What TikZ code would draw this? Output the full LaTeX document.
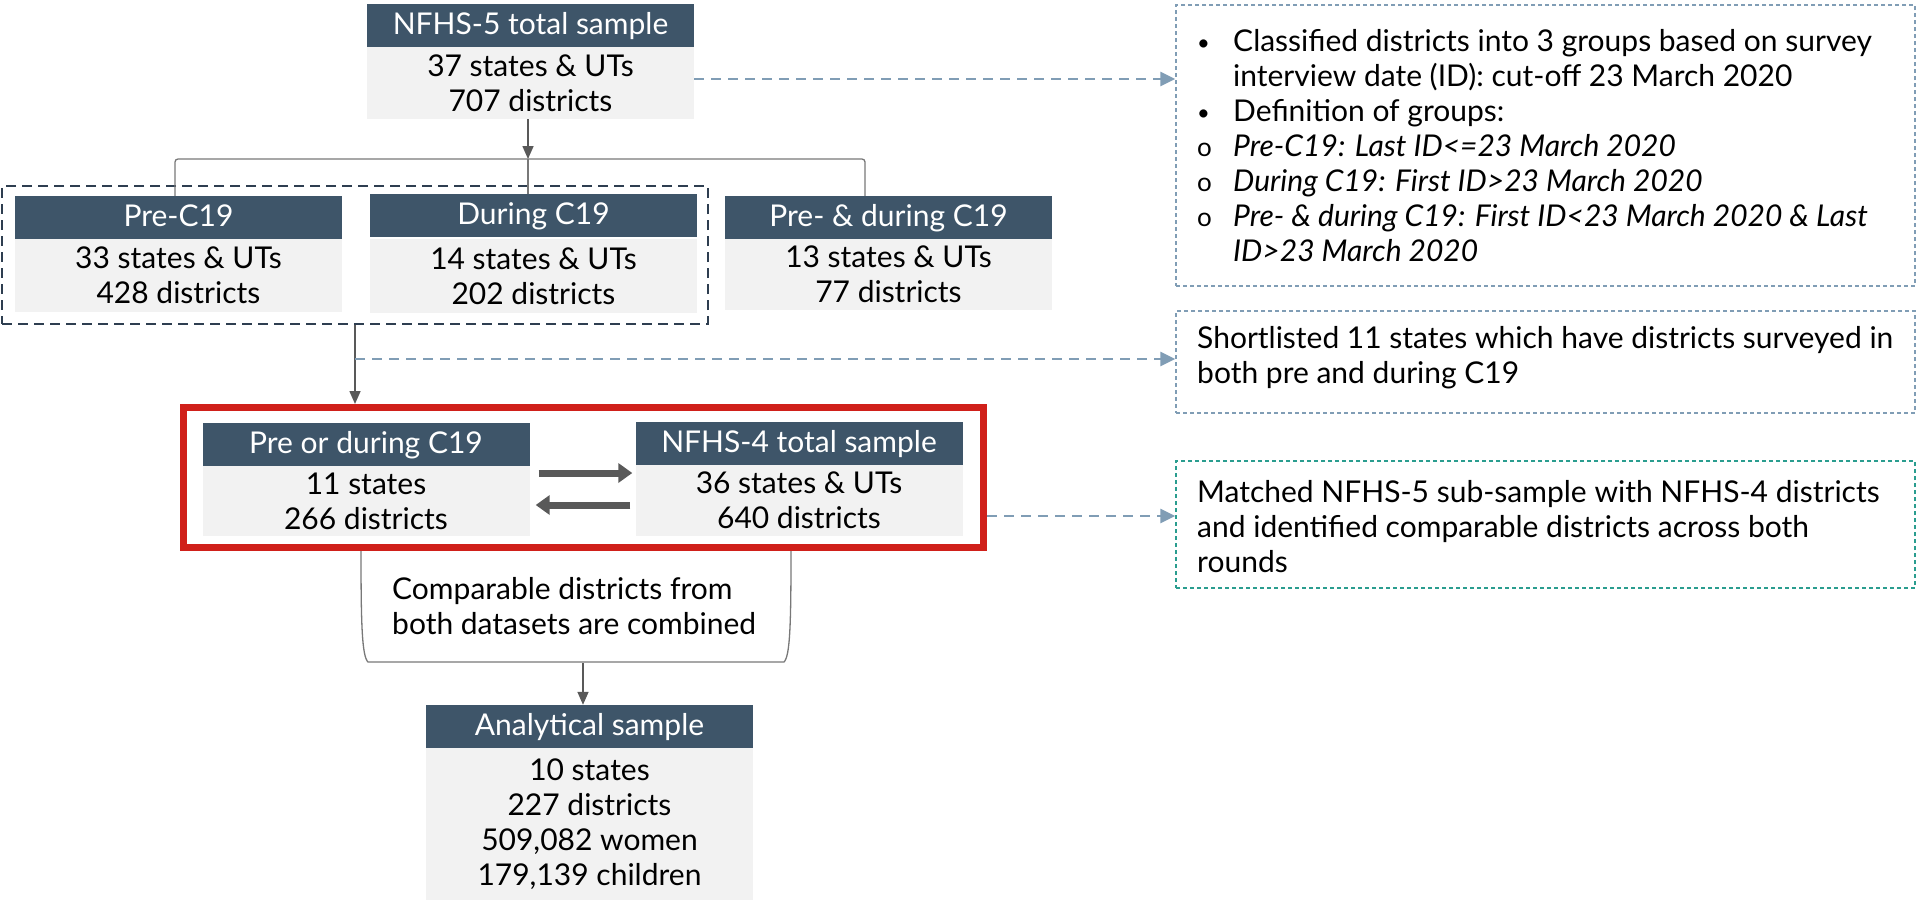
\documentclass[tikz,border=0pt]{standalone}
\usepackage{fontspec}
\setmainfont{Lato}
\usetikzlibrary{arrows.meta,calc}
\definecolor{hdrc}{RGB}{62,85,105}
\definecolor{bodyc}{RGB}{242,242,242}
\definecolor{grpc}{RGB}{46,62,80}
\definecolor{blu}{RGB}{128,157,181}
\definecolor{grn}{RGB}{42,157,143}
\definecolor{redc}{RGB}{208,32,26}
\definecolor{arrc}{RGB}{89,89,89}
\definecolor{brkc}{RGB}{120,120,120}
\newcommand{\bul}{\makebox[36pt][l]{\fontsize{22}{22}\selectfont\raisebox{1pt}{•}}}
\newcommand{\cir}{\makebox[36pt][l]{\fontsize{26}{26}\selectfont o}}
\begin{document}
\begin{tikzpicture}[x=1pt,y=-1pt,
  txt/.style={font=\fontsize{30}{35}\selectfont},
  hdr/.style={txt, fill=hdrc, text=white, minimum width=327pt, minimum height=43pt, inner sep=0pt, text height=23pt, text depth=6pt},
  bodyb/.style={txt, fill=bodyc, text=black, minimum width=327pt, inner sep=0pt, align=center},
  gar/.style={draw=arrc, line width=1.6pt, -{Triangle[length=13pt,width=11pt]}},
  fat/.style={draw=arrc, line width=7pt, -{Triangle[length=14pt,width=19pt]}},
  brk/.style={draw=brkc, line width=1.3pt},
  blarr/.style={draw=blu, line width=2.6pt, dash pattern=on 10pt off 7pt, -{Triangle[length=15pt,width=14pt]}},
  notebox/.style={draw, line width=1.3pt, dash pattern=on 4pt off 3pt, minimum width=739pt, inner sep=0pt},
]
\useasboundingbox (0,0) rectangle (1921,900);

% NFHS-5
\node[hdr] (n5h) at (530.5,25.5) {NFHS-5 total sample};
\node[bodyb, minimum height=72pt] (n5b) at (530.5,83) {37 states \& UTs\\707 districts};

% three groups
\node[hdr] (preh) at (178.5,217.5) {Pre-C19};
\node[bodyb, minimum height=73pt] (preb) at (178.5,275.5) {33 states \& UTs\\428 districts};
\node[hdr] (durh) at (533.5,215.5) {During C19};
\node[bodyb, minimum height=74pt] (durb) at (533.5,276) {14 states \& UTs\\202 districts};
\node[hdr] (pdh) at (888.5,217.5) {Pre- \& during C19};
\node[bodyb, minimum height=71pt] (pdb) at (888.5,274.5) {13 states \& UTs\\77 districts};

% dashed group box
\node[draw=grpc, line width=2.8pt, dash pattern=on 10pt off 6pt, minimum width=706pt, minimum height=138pt, inner sep=0pt] (grp) at (355,255) {};

% bracket from NFHS-5
\coordinate (bk) at (528,159);
\draw[gar] (n5b.south -| bk) -- (bk);
\draw[brk, rounded corners=3pt] (preh.north -| 175,0) -- (175,159) -- (865,159) -- (pdh.north -| 865,0);
\draw[brk] (bk) -- (durh.north -| bk);

% red box
\node[draw=redc, line width=7pt, minimum width=800pt, minimum height=140pt, inner sep=0pt] (red) at (583.5,477.5) {};
\node[hdr] (podh) at (366,444.5) {Pre or during C19};
\node[bodyb, minimum height=70pt] (podb) at (366,501) {11 states\\266 districts};
\node[hdr] (n4h) at (799,443.5) {NFHS-4 total sample};
\node[bodyb, minimum height=71pt] (n4b) at (799,500.5) {36 states \& UTs\\640 districts};
\draw[fat, shorten <=9pt, shorten >=3pt] (podb.east |- 0,473) -- (n4b.west |- 0,473);
\draw[fat, shorten <=5pt, shorten >=6pt] (n4b.west |- 0,505) -- (podb.east |- 0,505);

\draw[gar] (grp.south) -- (grp.south |- red.north);

% bracket below red box
\draw[brk] (361,551) .. controls (361,625) and (362,656) .. (368,662) -- (784,662) .. controls (790,656) and (791,625) .. (791,551);
\node[txt, anchor=west, align=left, inner sep=0pt] (cmp) at (392,606.5) {Comparable districts from\\both datasets are combined};
\coordinate (brb) at (583,663);

% analytical sample
\node[hdr] (anh) at (589.5,726.5) {Analytical sample};
\node[bodyb, minimum height=152pt] (anb) at (589.5,824) {10 states\\227 districts\\509,082 women\\179,139 children};
\draw[gar] (brb) -- (brb |- anh.north);

% note boxes
\node[notebox, draw=blu, minimum height=281pt] (box1) at (1545.5,145.5) {};
\node[txt, anchor=west, align=left, inner sep=0pt] (t1) at (1197,146) {%
\bul Classified districts into 3 groups based on survey\\
\hspace*{36pt}interview date (ID): cut-off 23 March 2020\\
\bul Definition of groups:\\
\cir\textit{Pre-C19: Last ID<=23 March 2020}\\
\cir\textit{During C19: First ID>23 March 2020}\\
\cir\textit{Pre- \& during C19: First ID<23 March 2020 \& Last}\\
\hspace*{36pt}\textit{ID>23 March 2020}};
\node[notebox, draw=blu, minimum height=102pt] (box2) at (1545.5,362) {};
\node[txt, anchor=west, align=left, inner sep=0pt] (t2) at (1197,357.5) {Shortlisted 11 states which have districts surveyed in\\both pre and during C19};
\node[notebox, draw=grn, minimum height=127pt] (box3) at (1545.5,524.5) {};
\node[txt, anchor=west, align=left, inner sep=0pt] (t3) at (1197,527) {Matched NFHS-5 sub-sample with NFHS-4 districts\\and identified comparable districts across both\\rounds};

% dashed blue arrows
\draw[blarr] ([yshift=4pt]n5b.east) -- ([yshift=4pt]n5b.east -| box1.west);
\coordinate (j2) at (grp.south |- 0,359);
\draw[blarr] (j2) -- (j2 -| box2.west);
\draw[blarr] (red.east |- 0,516) -- (box3.west |- 0,516);
\end{tikzpicture}
\end{document}
